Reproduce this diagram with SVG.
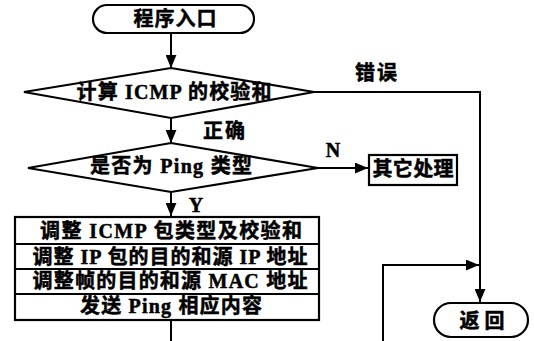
<svg xmlns="http://www.w3.org/2000/svg" width="534" height="341" viewBox="0 0 534 341">
<defs>
<marker id="ah" viewBox="0 0 12 10" refX="12" refY="5" markerWidth="13" markerHeight="11" markerUnits="userSpaceOnUse" orient="auto">
<path d="M0,0 L12,5 L0,10 Z" fill="#000"/>
</marker>
<style>
.s{fill:#fff;stroke:#000;stroke-width:2.2}
.c{fill:none;stroke:#000;stroke-width:2}
.t{font-family:"Liberation Serif","Noto Sans CJK SC",serif;font-weight:bold;font-size:20px;fill:#000;stroke:#000;stroke-width:0.5;text-anchor:middle;dominant-baseline:central}
</style>
</defs>
<rect width="534" height="341" fill="#fff"/>
<g id="connectors">
<path class="c" d="M171,33 V68" marker-end="url(#ah)"/>
<path class="c" d="M314,92 H480 V302" marker-end="url(#ah)"/>
<path class="c" d="M171,118 V143" marker-end="url(#ah)"/>
<path class="c" d="M318,168 H368" marker-end="url(#ah)"/>
<path class="c" d="M171,192 V216" marker-end="url(#ah)"/>
<path class="c" d="M171,320 V341"/>
<path class="c" d="M383,341 V265 H479" marker-end="url(#ah)"/>
<text class="t" x="376" y="73" textLength="42">错误</text>
<text class="t" x="224" y="131" textLength="42">正确</text>
<text class="t" x="333" y="150">N</text>
<text class="t" x="196" y="205">Y</text>
</g>
<g id="start">
<rect class="s" x="93" y="5" width="161" height="28" rx="14"/>
<text class="t" x="175" y="19" textLength="83">程序入口</text>
</g>
<g id="checksum">
<path class="s" d="M171,68 L314,92 L171,118 L24,92 Z"/>
<text class="t" x="174" y="92" textLength="195">计算 ICMP 的校验和</text>
</g>
<g id="isping">
<path class="s" d="M171,143 L318,168 L171,192 L28,168 Z"/>
<text class="t" x="171" y="166" textLength="162">是否为 Ping 类型</text>
</g>
<g id="other">
<rect class="s" x="369" y="155" width="88" height="30" stroke-width="2.6"/>
<text class="t" x="413" y="169" textLength="81">其它处理</text>
</g>
<g id="process">
<rect class="s" x="15" y="217" width="304" height="103"/>
<path class="c" d="M15,244 H319 M15,269 H319 M15,294 H319"/>
<text class="t" x="171" y="231" textLength="262">调整 ICMP 包类型及校验和</text>
<text class="t" x="170" y="257" textLength="275">调整 IP 包的目的和源 IP 地址</text>
<text class="t" x="170" y="281" textLength="275">调整帧的目的和源 MAC 地址</text>
<text class="t" x="171" y="306" textLength="182">发送 Ping 相应内容</text>
</g>
<g id="return">
<rect class="s" x="434" y="303" width="94" height="34" rx="17"/>
<text class="t" x="482" y="321" textLength="45">返回</text>
</g>
</svg>
